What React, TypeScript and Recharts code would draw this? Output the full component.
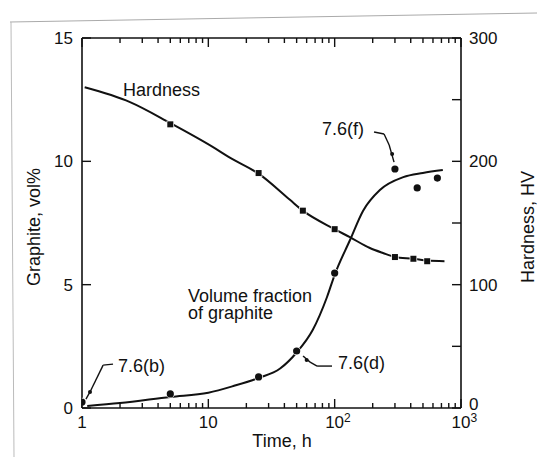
import React from "react";
import { ComposedChart, Line, Scatter, XAxis, YAxis, ReferenceDot, ReferenceLine } from "recharts";

// time in hours (log axis)
const xTicks = [1, 2, 3, 4, 5, 6, 7, 8, 9, 10, 20, 30, 40, 50, 60, 70, 80, 90, 100, 200, 300, 400, 500, 600, 700, 800, 900, 1000];
const xLabels: Record<number, [string, string]> = { 1: ["1", ""], 10: ["10", ""], 100: ["10", "2"], 1000: ["10", "3"] };
const leftTicks = [0, 5, 10, 15];
const rightTicks = [0, 50, 100, 150, 200, 250, 300];
const rightLabels = [0, 100, 200, 300];

// hardness, HV
const hardnessCurve = [
  { t: 1.05, v: 260 }, { t: 2.4, v: 248 }, { t: 5, v: 231 }, { t: 10.9, v: 211.5 }, { t: 14.8, v: 203 },
  { t: 25, v: 190 }, { t: 44, v: 169 }, { t: 56, v: 160 }, { t: 100, v: 145 }, { t: 132, v: 138.5 },
  { t: 190, v: 129.7 }, { t: 241, v: 125.7 }, { t: 300, v: 122.5 }, { t: 420, v: 121 }, { t: 540, v: 119.5 }, { t: 740, v: 119 },
];
const hardnessPoints = [
  { t: 5, v: 230 }, { t: 25, v: 190.5 }, { t: 56, v: 160 }, { t: 100, v: 145 },
  { t: 300, v: 122.4 }, { t: 420, v: 121 }, { t: 540, v: 119 },
];

// graphite, vol%
const graphiteCurve = [
  { t: 1.1, v: 0.08 }, { t: 2, v: 0.2 }, { t: 5, v: 0.45 }, { t: 10, v: 0.62 }, { t: 16, v: 0.9 },
  { t: 25, v: 1.22 }, { t: 37, v: 1.6 }, { t: 50, v: 2.25 }, { t: 67, v: 3.16 }, { t: 87, v: 4.5 },
  { t: 100, v: 5.4 }, { t: 132, v: 6.8 }, { t: 168, v: 8.0 }, { t: 228, v: 8.84 }, { t: 349, v: 9.36 },
  { t: 499, v: 9.53 }, { t: 718, v: 9.65 },
];
const graphitePoints = [
  { t: 1, v: 0.24 }, { t: 5, v: 0.57 }, { t: 25, v: 1.26 }, { t: 50, v: 2.31 },
  { t: 100, v: 5.47 }, { t: 300, v: 9.69 }, { t: 450, v: 8.92 }, { t: 650, v: 9.32 },
];

const FONT = "'Liberation Sans', Arial, Helvetica, sans-serif";
const INK = "#111";

const BottomTick = (props: any) => {
  const { x, y, payload } = props;
  const lab = xLabels[payload.value];
  return (
    <g>
      <line x1={x} x2={x} y1={y} y2={y - (lab ? 9 : 5)} stroke={INK} strokeWidth={1.4} />
      {lab && (
        <text x={x - 9.5} y={y + 20} fontSize={17} fontFamily={FONT} fill={INK} textAnchor={lab[1] ? "start" : "middle"} dx={lab[1] ? 0 : 9.5}>
          {lab[0]}
          {lab[1] && <tspan fontSize={12} dy={-6}>{lab[1]}</tspan>}
        </text>
      )}
    </g>
  );
};

const TopTick = (props: any) => {
  const { x, y, payload } = props;
  const major = !!xLabels[payload.value];
  return <line x1={x} x2={x} y1={y} y2={y + (major ? 9 : 5)} stroke={INK} strokeWidth={1.4} />;
};

const LeftTick = (props: any) => {
  const { x, y, payload } = props;
  return (
    <g>
      <line x1={x} x2={x + 9} y1={y} y2={y} stroke={INK} strokeWidth={1.4} />
      <text x={x - 9} y={y} dy="0.36em" fontSize={17} fontFamily={FONT} fill={INK} textAnchor="end">{payload.value}</text>
    </g>
  );
};

const RightTick = (props: any) => {
  const { x, y, payload } = props;
  return (
    <g>
      <line x1={x} x2={x - 9} y1={y} y2={y} stroke={INK} strokeWidth={1.4} />
      {rightLabels.includes(payload.value) && (
        <text x={x + 8} y={payload.value === 0 ? y - 4 : y} dy="0.36em" fontSize={17} fontFamily={FONT} fill={INK} textAnchor="start">{payload.value}</text>
      )}
    </g>
  );
};

const Square = (props: any) => (
  <rect x={props.cx - 3} y={props.cy - 3} width={6} height={6} fill={INK} stroke="#fff" strokeWidth={1.5} paintOrder="stroke" />
);
const Circle = (props: any) => (
  <circle cx={props.cx} cy={props.cy} r={3.6} fill={INK} stroke="#fff" strokeWidth={1.5} paintOrder="stroke" />
);

const note = (text: string) => (p: any) => (
  <text x={p.cx} y={p.cy} fontSize={18} fontFamily={FONT} fill={INK}>{text}</text>
);
const arrowDot = (p: any) => <circle cx={p.cx} cy={p.cy} r={2} fill={INK} />;

const leaders: [number, number][][] = [
  [[1.76, 1.78], [1.47, 1.74], [1.157, 0.65], [1.075, 0.36]],
  [[205, 11.19], [246, 11.11], [270, 10.66], [295, 9.97]],
  [[95.3, 1.7], [72.6, 1.7], [63.9, 1.86], [56.2, 2.11]],
];

export default function App() {
  return (
    <div style={{ position: "absolute", left: 0, top: 0, width: 537, height: 457, background: "#fff" }}>
      <svg width={537} height={457} style={{ position: "absolute", left: 0, top: 0 }}>
        <line x1={10} y1={22} x2={537} y2={13} stroke="#aaa" strokeWidth={1} />
        <line x1={11} y1={22} x2={14} y2={457} stroke="#bbb" strokeWidth={1} />
        <text x={40} y={227} transform="rotate(-90 40 227)" textAnchor="middle" fontSize={18} fontFamily={FONT} fill={INK}>Graphite, vol%</text>
        <text x={534} y={227} transform="rotate(-90 534 227)" textAnchor="middle" fontSize={18} fontFamily={FONT} fill={INK}>Hardness, HV</text>
        <text x={282} y={447} textAnchor="middle" fontSize={18} fontFamily={FONT} fill={INK}>Time, h</text>
      </svg>
      <ComposedChart width={537} height={457} margin={{ top: 28, right: 0, bottom: 19, left: 22 }} style={{ position: "absolute", left: 0, top: 0 }}>
        <XAxis dataKey="t" type="number" scale="log" domain={[1, 1000]} ticks={xTicks} allowDataOverflow
          height={30} tickSize={0} tickMargin={0} tickLine={false} tick={<BottomTick />} interval={0}
          axisLine={{ stroke: INK, strokeWidth: 1.6 }} />
        <XAxis xAxisId="top" orientation="top" dataKey="t" type="number" scale="log" domain={[1, 1000]} ticks={xTicks} allowDataOverflow
          height={10} tickSize={0} tickMargin={0} tickLine={false} tick={<TopTick />} interval={0}
          axisLine={{ stroke: INK, strokeWidth: 1.6 }} />
        <YAxis yAxisId="g" domain={[0, 15]} ticks={leftTicks} width={60} tickSize={0} tickMargin={0} tickLine={false}
          tick={<LeftTick />} interval={0} axisLine={{ stroke: INK, strokeWidth: 1.6 }} />
        <YAxis yAxisId="h" orientation="right" domain={[0, 300]} ticks={rightTicks} width={76} tickSize={0} tickMargin={0} tickLine={false}
          tick={<RightTick />} interval={0} axisLine={{ stroke: INK, strokeWidth: 1.6 }} />

        <Line yAxisId="h" data={hardnessCurve} dataKey="v" type="monotone" stroke={INK} strokeWidth={2} dot={false} activeDot={false} isAnimationActive={false} />
        <Line yAxisId="g" data={graphiteCurve} dataKey="v" type="monotone" stroke={INK} strokeWidth={2} dot={false} activeDot={false} isAnimationActive={false} />

        {leaders.map((pts, i) =>
          pts.slice(1).map((p, j) => (
            <ReferenceLine key={`l${i}-${j}`} yAxisId="g" ifOverflow="visible"
              segment={[{ x: pts[j][0], y: pts[j][1] }, { x: p[0], y: p[1] }]} stroke={INK} strokeWidth={1.4} />
          ))
        )}
        <ReferenceDot yAxisId="g" x={1.157} y={0.65} r={2} shape={arrowDot} ifOverflow="visible" />
        <ReferenceDot yAxisId="g" x={285} y={10.3} r={2} shape={arrowDot} ifOverflow="visible" />
        <ReferenceDot yAxisId="g" x={60} y={1.95} r={2} shape={arrowDot} ifOverflow="visible" />

        <Scatter yAxisId="h" data={hardnessPoints} dataKey="v" shape={<Square />} isAnimationActive={false} />
        <Scatter yAxisId="g" data={graphitePoints} dataKey="v" shape={<Circle />} isAnimationActive={false} />

        <ReferenceDot yAxisId="g" x={2.11} y={12.65} r={0} shape={note("Hardness")} ifOverflow="visible" />
        <ReferenceDot yAxisId="g" x={79.5} y={11.07} r={0} shape={note("7.6(f)")} ifOverflow="visible" />
        <ReferenceDot yAxisId="g" x={6.91} y={4.3} r={0} shape={note("Volume fraction")} ifOverflow="visible" />
        <ReferenceDot yAxisId="g" x={6.91} y={3.61} r={0} shape={note("of graphite")} ifOverflow="visible" />
        <ReferenceDot yAxisId="g" x={1.93} y={1.46} r={0} shape={note("7.6(b)")} ifOverflow="visible" />
        <ReferenceDot yAxisId="g" x={106.4} y={1.58} r={0} shape={note("7.6(d)")} ifOverflow="visible" />
      </ComposedChart>
    </div>
  );
}
